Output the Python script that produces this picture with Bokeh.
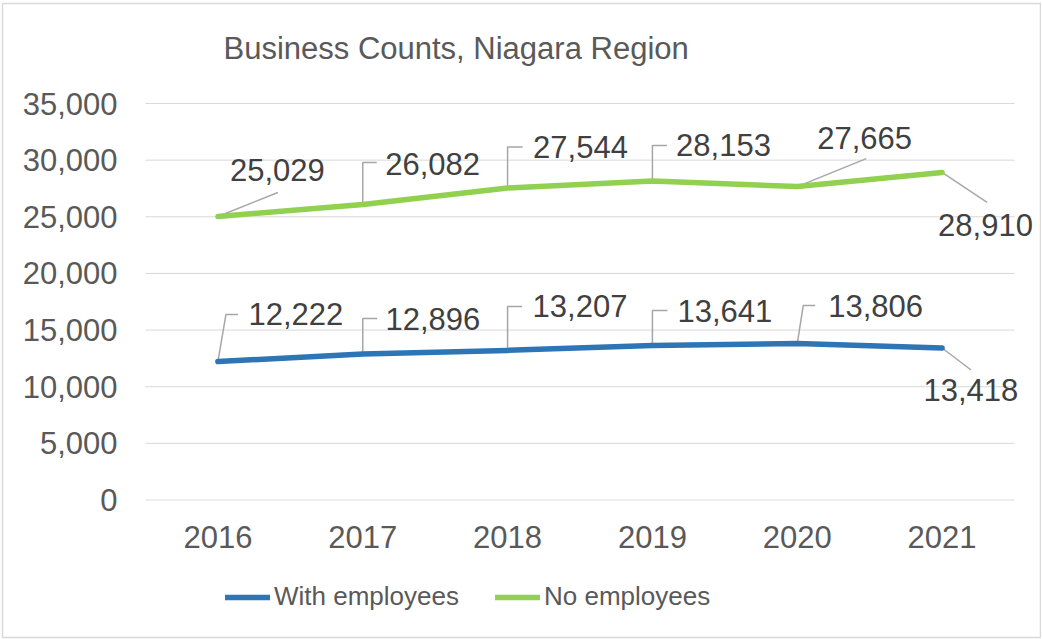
from bokeh.plotting import figure
from bokeh.models import (ColumnDataSource, FixedTicker, NumeralTickFormatter,
                          Legend, LabelSet, Label, Range1d)
from bokeh.core.properties import value
from bokeh.embed import file_html
from bokeh.resources import INLINE

# ---- data ----
title_text = "Business Counts, Niagara Region"
years = ["2016", "2017", "2018", "2019", "2020", "2021"]
with_employees = [12222, 12896, 13207, 13641, 13806, 13418]
no_employees = [25029, 26082, 27544, 28153, 27665, 28910]
y_ticks = [0, 5000, 10000, 15000, 20000, 25000, 30000, 35000]

# ---- label layout (screen px, y down) ----
green_text_off = [(12, -46), (22.5, -41), (25.5, -41), (23.7, -36), (20, -49), (-4, 52.5)]
green_leader = [[(0, 0), (60, -24)],
                [(0, 0), (0, -42), (14, -42)],
                [(0, 0), (0, -41), (15, -41)],
                [(0, 0), (0, -35.5), (14.5, -35.5)],
                [(0, 0), (69, -28)],
                [(0, 0), (45, 30)]]
blue_text_off = [(30.6, -47.5), (22.7, -35.4), (25, -44), (25, -34), (31, -38), (-18.6, 42.5)]
blue_leader = [[(0, 0), (8, -47), (20, -47)],
               [(0, 0), (0, -35.4), (14.5, -35.4)],
               [(0, 0), (0, -44), (14.5, -44)],
               [(0, 0), (0, -35), (15, -35)],
               [(0, 0), (6, -38), (18, -38)],
               [(0, 0), (29, 22)]]

BLUE = "#2E75B6"
GREEN = "#92D050"
FONT = "Liberation Sans"

# ---- geometry (px) ----
W, H = 1041, 639
FL, FR, FT, FB = 2, 1040, 3, 637          # chart-area border
PLOT_L = 145                               # left edge of category area
PLOT_TOP, PLOT_BOT = 103, 499.5            # pixel rows of 35,000 and 0
PLOT_W = 869                               # width of the category area
YMAX = 35000
NX = len(years)
px_x = PLOT_W / NX
px_y = (PLOT_BOT - PLOT_TOP) / YMAX


def y_at(py):
    return (PLOT_BOT - py) / px_y


def x_at(px):
    return (px - PLOT_L) / px_x


xs = [i + 0.5 for i in range(NX)]

p = figure(width=W, height=H, output_backend="svg", toolbar_location=None,
           x_range=Range1d(x_at(FL), x_at(FR)), y_range=Range1d(y_at(FB), y_at(FT)),
           min_border_left=FL, min_border_right=W - FR, min_border_top=FT,
           min_border_bottom=H - FB, background_fill_color="white",
           border_fill_color="white", outline_line_color="#D9D9D9",
           outline_line_width=1.5)

# axes
ya = p.yaxis[0]
ya.fixed_location = 0
ya.ticker = FixedTicker(ticks=y_ticks)
ya.formatter = NumeralTickFormatter(format="0,0")
ya.axis_line_color = None
ya.major_tick_line_color = None
ya.major_tick_out = 0
ya.major_tick_in = 0
ya.minor_tick_line_color = None
ya.major_label_standoff = 28
ya.major_label_text_font = FONT
ya.major_label_text_font_size = "31px"
ya.major_label_text_color = "#595959"

xa = p.xaxis[0]
xa.fixed_location = 0
xa.ticker = FixedTicker(ticks=xs)
xa.major_label_overrides = {x: y for x, y in zip(xs, years)}
xa.axis_line_color = None
xa.major_tick_line_color = None
xa.major_tick_out = 0
xa.major_tick_in = 0
xa.minor_tick_line_color = None
xa.major_label_standoff = 26
xa.major_label_text_font = FONT
xa.major_label_text_font_size = "31px"
xa.major_label_text_color = "#595959"

p.xgrid.grid_line_color = None
p.ygrid.grid_line_color = None

# horizontal gridlines limited to the category area
p.segment(x0=[0] * len(y_ticks), x1=[NX] * len(y_ticks), y0=y_ticks, y1=y_ticks,
          line_color="#D9D9D9", line_width=1)

# title
p.add_layout(Label(x=x_at(223), y=y_at(48), text=title_text, text_align="left",
                   text_baseline="alphabetic", text_font=FONT,
                   text_font_size="31px", text_color="#595959"))


def leaders(vals, layout):
    out_x, out_y = [], []
    for i, (v, pts) in enumerate(zip(vals, layout)):
        out_x.append([xs[i] + dx / px_x for dx, dy in pts])
        out_y.append([v - dy / px_y for dx, dy in pts])
    return out_x, out_y


for vals, lay in ((no_employees, green_leader), (with_employees, blue_leader)):
    lx, ly = leaders(vals, lay)
    p.multi_line(lx, ly, line_color="#A6A6A6", line_width=1.5)

r_blue = p.line(xs, with_employees, line_color=BLUE, line_width=5.5,
                line_join="round", line_cap="round")
r_green = p.line(xs, no_employees, line_color=GREEN, line_width=5.5,
                 line_join="round", line_cap="round")


def fmt(v):
    return f"{v:,}"


for vals, offs in ((no_employees, green_text_off), (with_employees, blue_text_off)):
    src = ColumnDataSource(dict(x=xs, y=vals, t=[fmt(v) for v in vals],
                                xo=[o[0] for o in offs], yo=[-o[1] for o in offs]))
    ls = LabelSet(x="x", y="y", text="t", x_offset="xo", y_offset="yo", source=src,
                  text_align="left", text_baseline="middle",
                  text_font=value(FONT), text_font_size="31px", text_color="#404040")
    p.add_layout(ls)

legend = Legend(items=[("With employees", [r_blue]), ("No employees", [r_green])],
                orientation="horizontal", location=(225 - FL, 25),
                glyph_width=45, glyph_height=30, label_standoff=4, spacing=36,
                padding=0, margin=0, border_line_color=None,
                background_fill_alpha=0, label_text_font=FONT,
                label_text_font_size="26px", label_text_color="#595959")
p.add_layout(legend)

open("out.html", "w").write(file_html(p, INLINE))
